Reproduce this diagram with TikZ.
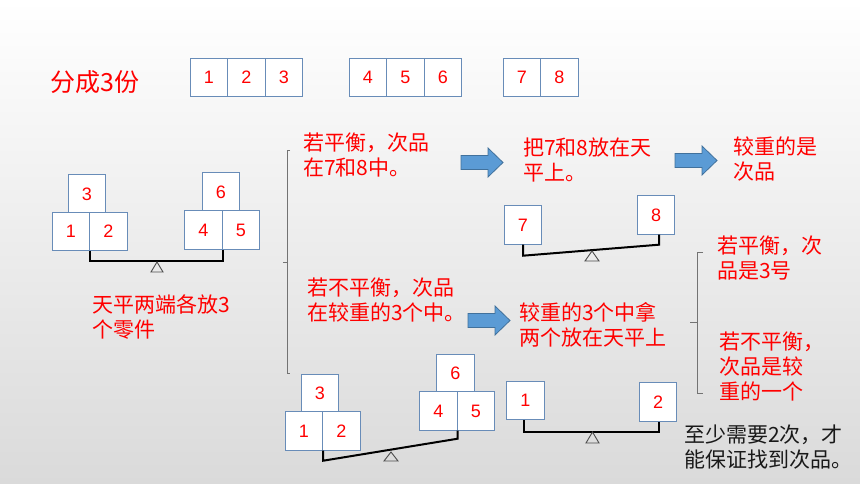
\documentclass[tikz,border=0pt]{standalone}
\usepackage{fontspec}
\newfontfamily\cjk{Noto Sans CJK SC}
\newfontfamily\numfont{Liberation Sans}
\usetikzlibrary{calc}
\definecolor{boxblue}{RGB}{104,140,184}
\definecolor{arrfill}{RGB}{91,155,213}
\definecolor{arrline}{RGB}{65,113,156}
\definecolor{bglow}{RGB}{218,218,218}
\begin{document}
\begin{tikzpicture}[x=1pt,y=-1pt,
  numbox/.style={draw=boxblue, line width=0.9pt, fill=white, minimum width=37.5pt, minimum height=38.5pt, inner sep=0pt, font=\numfont\fontsize{18}{20}\selectfont, text=red},
  redtxt/.style={font=\cjk\fontsize{21}{25}\selectfont, text=red, align=left, inner sep=0pt, anchor=west},
  beam/.style={line width=2pt, black},
  fulcrum/.style={draw=black!70, line width=0.9pt},
  bracket/.style={draw=black!55, line width=0.9pt},
  arrowsty/.style={fill=arrfill, draw=arrline, line width=0.8pt},
  barrow/.pic={\draw[arrowsty] (0,-7) -- (27,-7) -- (27,-14.5) -- (42,0) -- (27,14.5) -- (27,7) -- (0,7) -- cycle;}]
\useasboundingbox (0,0) rectangle (860,484);
\shade[top color=white, bottom color=bglow] (0,0) rectangle (860,484);

% title
\node[redtxt, font=\cjk\fontsize{25}{30}\selectfont] (title) at (50,82.5) {分成3份};

% top row
\node[numbox] (a1) at (209,77.5) {1};
\node[numbox] (a2) at (246.5,77.5) {2};
\node[numbox] (a3) at (284,77.5) {3};
\node[numbox] (a4) at (368,77.5) {4};
\node[numbox] (a5) at (405.5,77.5) {5};
\node[numbox] (a6) at (443,77.5) {6};
\node[numbox] (a7) at (522,77.5) {7};
\node[numbox] (a8) at (559.5,77.5) {8};

% left balance
\node[numbox] (L3) at (87,194) {3};
\node[numbox] (L1) at (71,231.5) {1};
\node[numbox] (L2) at (108.5,231.5) {2};
\node[numbox] (L6) at (221,192) {6};
\node[numbox] (L4) at (203.5,230) {4};
\node[numbox] (L5) at (241,230) {5};
\draw[beam] (L1.south east) -- ++(0,10) -| (L4.south east);
\draw[fulcrum] (157,262) -- (151,272) -- (163,272) -- cycle;
\node[redtxt] (t1) at (92,317.5) {天平两端各放3\\个零件};

% left bracket
\draw[bracket] (290,150) -- (287,150) -- (287,373) -- (290,373);
\draw[bracket] (287,262) -- (283,262);

% balanced branch
\node[redtxt] (t2) at (303,155.5) {若平衡，次品\\在7和8中。};
\pic at (461,162.5) {barrow};
\node[redtxt] (t3) at (523,160) {把7和8放在天\\平上。};
\pic at (675,160.5) {barrow};
\node[redtxt] (t4) at (733,159.5) {较重的是\\次品};
\node[numbox] (M7) at (523,225) {7};
\node[numbox] (M8) at (656,215) {8};
\draw[beam] (M7.south) -- ++(0,11) -- ($(M8.south)+(3,10)$) -- ($(M8.south)+(3,0)$);
\draw[fulcrum] (592,251) -- (585,261) -- (599,261) -- cycle;

% unbalanced branch
\node[redtxt] (t5) at (307,300.5) {若不平衡，次品\\在较重的3个中。};
\pic at (468,320.5) {barrow};
\node[redtxt] (t6) at (519,324.5) {较重的3个中拿\\两个放在天平上};

\node[numbox] (B3) at (320,393.5) {3};
\node[numbox] (B1) at (304,431) {1};
\node[numbox] (B2) at (341.5,431) {2};
\node[numbox] (B6) at (455.5,373.5) {6};
\node[numbox] (B4) at (438.5,411) {4};
\node[numbox] (B5) at (476,411) {5};
\draw[beam] (B1.south east) -- ++(0,10) -- ($(B4.south east)+(0,8)$) -- (B4.south east);
\draw[fulcrum] (391,452) -- (384,461) -- (398,461) -- cycle;

\node[numbox] (R1) at (525.5,400.5) {1};
\node[numbox] (R2) at (658,402) {2};
\draw[beam] ($(R1.south)+(-2,0)$) -- ++(0,12) -| ($(R2.south)+(1,0)$);
\draw[fulcrum] (592.5,432) -- (586,443) -- (599,443) -- cycle;

% right bracket
\draw[bracket] (703,252) -- (697,252) -- (697,393) -- (703,393);
\draw[bracket] (697,322) -- (690,322);
\node[redtxt] (t7) at (717,258.5) {若平衡，次\\品是3号};
\node[redtxt] (t8) at (719,367) {若不平衡，\\次品是较\\重的一个};

\node[redtxt, text=black!90] (t9) at (684,447.5) {至少需要2次，才\\能保证找到次品。};
\end{tikzpicture}
\end{document}
